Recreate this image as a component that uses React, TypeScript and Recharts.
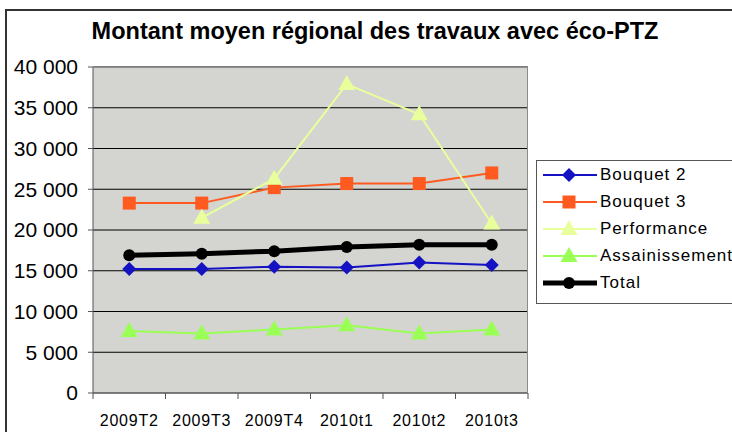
import React from 'react';
import { LineChart, Line, XAxis, YAxis, CartesianGrid, Legend } from 'recharts';

const periods = ['2009T2', '2009T3', '2009T4', '2010t1', '2010t2', '2010t3'];
const bouquet2 = [15200, 15200, 15500, 15400, 16000, 15700];
const bouquet3 = [23300, 23300, 25200, 25700, 25700, 27000];
const performance = [null, 21500, 26300, 37900, 34200, 20800];
const assainissement = [7600, 7300, 7800, 8300, 7300, 7800];
const total = [16900, 17100, 17400, 17900, 18200, 18200];
const yTicks = [0, 5000, 10000, 15000, 20000, 25000, 30000, 35000, 40000];

const data = periods.map((p, i) => ({
  period: p,
  b2: bouquet2[i],
  b3: bouquet3[i],
  perf: performance[i],
  assain: assainissement[i],
  total: total[i],
}));

type Marker = 'diamond' | 'square' | 'triangle' | 'circle';

const series: { key: string; name: string; color: string; width: number; marker: Marker }[] = [
  { key: 'b2', name: 'Bouquet 2', color: '#1512c4', width: 2, marker: 'diamond' },
  { key: 'b3', name: 'Bouquet 3', color: '#ff5a1f', width: 2, marker: 'square' },
  { key: 'perf', name: 'Performance', color: '#e8ff9c', width: 2, marker: 'triangle' },
  { key: 'assain', name: 'Assainissement', color: '#99ff55', width: 2, marker: 'triangle' },
  { key: 'total', name: 'Total', color: '#000000', width: 5, marker: 'circle' },
];

const FONT = '"Liberation Sans", Arial, sans-serif';

const drawMarker = (marker: Marker, cx: number, cy: number, color: string) => {
  if (marker === 'diamond')
    return <polygon points={`${cx},${cy - 7} ${cx + 7},${cy} ${cx},${cy + 7} ${cx - 7},${cy}`} fill={color} />;
  if (marker === 'square') return <rect x={cx - 6.5} y={cy - 6.5} width={13} height={13} fill={color} />;
  if (marker === 'triangle')
    return <polygon points={`${cx},${cy - 9} ${cx + 8.5},${cy + 6} ${cx - 8.5},${cy + 6}`} fill={color} />;
  return <circle cx={cx} cy={cy} r={6} fill={color} />;
};

const makeDot = (marker: Marker, color: string) => (props: any) => {
  const { cx, cy, index, value } = props;
  if (cx == null || cy == null || value == null) return <g key={index} />;
  return <g key={index}>{drawMarker(marker, cx, cy, color)}</g>;
};

const CategoryTick = (props: any) => {
  const { x, y, payload, index, width } = props;
  const band = (typeof width === 'number' ? width : 435) / periods.length;
  return (
    <g>
      {index === 0 && <line x1={x - band / 2} x2={x - band / 2} y1={y} y2={y + 6} stroke="#555" />}
      <line x1={x + band / 2} x2={x + band / 2} y1={y} y2={y + 6} stroke="#555" />
      <text x={x} y={y + 33} textAnchor="middle" fontSize={16} fontFamily={FONT} fill="#000" letterSpacing={0.8}>
        {payload.value}
      </text>
    </g>
  );
};

const LegendBox = () => (
  <div
    style={{
      border: '1px solid #555',
      background: '#fff',
      width: 210,
      height: 142,
      fontFamily: FONT,
      fontSize: 17,
      letterSpacing: 1,
      color: '#000',
    }}
  >
    {series.map((s) => (
      <div key={s.key} style={{ height: 27, display: 'flex', alignItems: 'center', whiteSpace: 'nowrap' }}>
        <svg width={54} height={20} style={{ marginLeft: 6, marginRight: 3, flex: 'none' }}>
          <line x1={0} x2={54} y1={10} y2={10} stroke={s.color} strokeWidth={s.width} />
          {drawMarker(s.marker, 26, 10, s.color)}
        </svg>
        <span>{s.name}</span>
      </div>
    ))}
  </div>
);

const App = () => {
  return (
    <div style={{ position: 'absolute', left: 0, top: 0, width: 732, height: 432, overflow: 'hidden', background: '#fff' }}>
      <div
        style={{
          position: 'absolute',
          left: 5,
          top: 9,
          width: 800,
          height: 500,
          border: '2px solid #333',
        }}
      />
      <div
        style={{
          position: 'absolute',
          left: 0,
          top: 18,
          width: 750,
          textAlign: 'center',
          fontFamily: FONT,
          fontWeight: 'bold',
          fontSize: 23.5,
          color: '#000',
        }}
      >
        Montant moyen régional des travaux avec éco-PTZ
      </div>
      <div style={{ position: 'absolute', left: 0, top: 0 }}>
        <LineChart width={732} height={432} data={data} margin={{ top: 67, right: 204, bottom: 0, left: 0 }}>
          <CartesianGrid vertical={false} fill="#d4d5d0" stroke="#000" strokeOpacity={1} />
          <XAxis
            dataKey="period"
            scale="band"
            height={39}
            tickSize={0}
            tickMargin={0}
            tickLine={false}
            axisLine={{ stroke: '#808080' }}
            interval={0}
            tick={<CategoryTick />}
          />
          <YAxis
            width={93}
            domain={[0, 40000]}
            ticks={yTicks}
            interval={0}
            tickSize={5}
            tickMargin={10}
            axisLine={{ stroke: '#555' }}
            tickLine={{ stroke: '#555' }}
            tick={{ fontSize: 21, fontFamily: FONT, fill: '#000' }}
            tickFormatter={(v: number) => v.toLocaleString('fr-FR').replace(/\s/g, ' ')}
          />
          {series.map((s) => (
            <Line
              key={s.key}
              type="linear"
              dataKey={s.key}
              name={s.name}
              stroke={s.color}
              strokeWidth={s.width}
              dot={makeDot(s.marker, s.color)}
              activeDot={false}
              isAnimationActive={false}
            />
          ))}
          <Legend
            layout="vertical"
            align="center"
            verticalAlign="middle"
            content={() => <LegendBox />}
            wrapperStyle={{ left: 536, top: 160, width: 210, height: 144 }}
          />
        </LineChart>
      </div>
      <div
        style={{
          position: 'absolute',
          left: 93,
          top: 67,
          width: 435,
          height: 326,
          boxSizing: 'border-box',
          borderTop: '1px solid #8c8c8c',
          borderRight: '1px solid #8c8c8c',
          pointerEvents: 'none',
        }}
      />
    </div>
  );
};

export default App;
